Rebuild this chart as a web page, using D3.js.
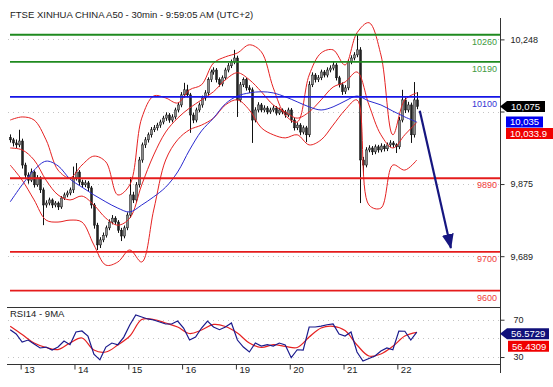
<!DOCTYPE html>
<html>
<head>
<meta charset="utf-8">
<script src="https://cdnjs.cloudflare.com/ajax/libs/d3/7.8.5/d3.min.js"></script>
<style>
body { margin: 0; background: #fff; }
svg { display: block; font-family: Arial, "Liberation Sans", sans-serif; }
</style>
</head>
<body>
<div id="chart"></div>
<script>
var title = "FTSE XINHUA CHINA A50 - 30min - 9:59:05 AM (UTC+2)";
var rsiTitle = "RSI14 - 9MA";

// days on the x axis and the bar index where each one starts
var dayLabels = ["13", "14", "15", "16", "19", "20", "21", "22"];
var dayStart = [4, 22, 40, 58, 76, 94, 112, 130];

// 30 min bars: [open, high, low, close]
var bars = [
	[9995, 10003, 9982, 9989], [9989, 9994, 9972, 9981], [9981, 9990, 9968, 9976], [9976, 10015, 9970, 9986],
	[9986, 9992, 9915, 9924], [9924, 9930, 9890, 9898], [9898, 9905, 9876, 9885], [9885, 9915, 9880, 9906],
	[9906, 9910, 9866, 9873], [9873, 9898, 9868, 9891], [9891, 9895, 9852, 9860], [9860, 9866, 9769, 9821],
	[9821, 9833, 9814, 9826], [9826, 9840, 9820, 9834], [9834, 9838, 9813, 9821], [9821, 9831, 9815, 9826],
	[9826, 9830, 9808, 9816], [9816, 9844, 9811, 9839], [9839, 9853, 9834, 9847], [9847, 9858, 9841, 9852],
	[9852, 9866, 9846, 9860], [9860, 9920, 9852, 9891], [9891, 9929, 9884, 9906], [9906, 9911, 9872, 9880],
	[9880, 9886, 9865, 9873], [9873, 9885, 9867, 9878], [9878, 9883, 9857, 9865], [9865, 9870, 9812, 9821],
	[9821, 9826, 9760, 9769], [9769, 9775, 9705, 9718], [9718, 9738, 9710, 9731], [9731, 9750, 9725, 9743],
	[9743, 9768, 9737, 9762], [9762, 9784, 9756, 9777], [9777, 9795, 9771, 9787], [9787, 9792, 9770, 9777],
	[9777, 9782, 9749, 9756], [9756, 9762, 9728, 9741], [9741, 9768, 9735, 9762], [9762, 9802, 9756, 9795],
	[9795, 9893, 9788, 9847], [9847, 9855, 9826, 9834], [9834, 9880, 9828, 9873], [9873, 9945, 9866, 9937],
	[9937, 9982, 9930, 9976], [9976, 9996, 9968, 9989], [9989, 10008, 9982, 10002], [10002, 10022, 9995, 10015],
	[10015, 10027, 10009, 10020], [10020, 10033, 10013, 10027], [10027, 10041, 10020, 10035], [10035, 10051, 10029, 10045],
	[10045, 10060, 10038, 10053], [10053, 10058, 10033, 10040], [10040, 10055, 10034, 10048], [10048, 10072, 10042, 10066],
	[10066, 10086, 10060, 10079], [10079, 10112, 10073, 10105], [10105, 10136, 10098, 10118], [10118, 10131, 10099, 10105],
	[10105, 10110, 10007, 10053], [10053, 10059, 10032, 10040], [10040, 10072, 10034, 10066], [10066, 10085, 10060, 10079],
	[10079, 10103, 10072, 10097], [10097, 10117, 10090, 10110], [10110, 10150, 10104, 10144], [10144, 10170, 10138, 10164],
	[10164, 10176, 10157, 10169], [10169, 10174, 10137, 10144], [10144, 10150, 10126, 10133], [10133, 10155, 10127, 10149],
	[10149, 10175, 10143, 10169], [10169, 10187, 10163, 10180], [10180, 10196, 10174, 10190], [10190, 10221, 10184, 10200],
	[10200, 10206, 10048, 10092], [10092, 10138, 10086, 10131], [10131, 10150, 10125, 10144], [10144, 10149, 10116, 10123],
	[10123, 10130, 10110, 10118], [10118, 10124, 9981, 10040], [10040, 10073, 10034, 10066], [10066, 10086, 10060, 10079],
	[10079, 10084, 10060, 10066], [10066, 10078, 10060, 10071], [10071, 10076, 10055, 10061], [10061, 10072, 10056, 10066],
	[10066, 10078, 10061, 10071], [10071, 10076, 10052, 10058], [10058, 10072, 10053, 10066], [10066, 10070, 10055, 10061],
	[10061, 10066, 10046, 10053], [10053, 10072, 10048, 10066], [10066, 10071, 10033, 10040], [10040, 10046, 10013, 10020],
	[10020, 10034, 10014, 10027], [10027, 10032, 10001, 10009], [10009, 10026, 10003, 10020], [10020, 10025, 9983, 10002],
	[10002, 10140, 9996, 10131], [10131, 10163, 10125, 10156], [10156, 10161, 10137, 10144], [10144, 10156, 10138, 10149],
	[10149, 10170, 10143, 10164], [10164, 10169, 10150, 10156], [10156, 10176, 10150, 10169], [10169, 10181, 10163, 10174],
	[10174, 10190, 10168, 10182], [10182, 10187, 10142, 10149], [10149, 10154, 10124, 10131], [10131, 10137, 10105, 10113],
	[10113, 10130, 10107, 10123], [10123, 10197, 10117, 10190], [10190, 10207, 10184, 10200], [10200, 10215, 10194, 10208],
	[10208, 10262, 10202, 10221], [10221, 10228, 9826, 9937], [9937, 9945, 9898, 9924], [9924, 9970, 9918, 9963],
	[9963, 9975, 9957, 9968], [9968, 9973, 9950, 9958], [9958, 9977, 9952, 9971], [9971, 9976, 9956, 9963],
	[9963, 9980, 9957, 9973], [9973, 9978, 9959, 9966], [9966, 9982, 9960, 9976], [9976, 9988, 9970, 9981],
	[9981, 9986, 9969, 9976], [9976, 9980, 9955, 9971], [9971, 10048, 9965, 10040], [10040, 10118, 10034, 10092],
	[10092, 10098, 10058, 10066], [10066, 10087, 10060, 10079], [10079, 10085, 9981, 10002], [10002, 10138, 9995, 10092],
	[10092, 10112, 10068, 10075]
];

// indicators read every 4 bars
var bandStep = 4;
var bbUpper = [10040, 10048, 10040, 9989, 9911, 9891, 9924, 9947, 9932, 9847, 9873, 10045, 10102, 10097, 10084, 10118, 10131, 10187,
	10203, 10213, 10234, 10216, 10123, 10053, 10035, 10156, 10213, 10221, 10182, 10265, 10291, 10208, 10002, 10092, 10110];
var bbMiddle = [9968, 9963, 9937, 9885, 9847, 9834, 9844, 9821, 9787, 9769, 9787, 9873, 9950, 10009, 10045, 10071, 10092, 10113,
	10144, 10162, 10144, 10113, 10079, 10061, 10045, 10061, 10092, 10125, 10138, 10164, 10079, 10002, 9968, 10002, 10034];
var bbLower = [9924, 9885, 9834, 9782, 9777, 9782, 9777, 9718, 9666, 9674, 9705, 9674, 9808, 9937, 9989, 10015, 10027, 10045,
	10079, 10092, 10066, 10020, 10002, 9994, 10002, 9976, 9989, 10027, 10066, 10092, 9821, 9813, 9924, 9911, 9937];
var movAvg = [9829, 9873, 9911, 9934, 9922, 9888, 9867, 9847, 9829, 9813, 9803, 9821, 9842, 9867, 9906, 9963, 10012, 10045,
	10082, 10102, 10110, 10113, 10110, 10100, 10087, 10074, 10066, 10074, 10089, 10102, 10089, 10079, 10063, 10048, 10035];

// RSI read every 2 bars, its 9MA every 4 bars
var rsiStep = 2;
var rsi = [59.3, 54.7, 46.1, 48.2, 43.9, 39.7, 40.7, 37.5, 40.7, 47.2, 43.2, 56.8, 57.9, 52.5, 33.0, 27.0, 40.7, 45.0, 43.2,
	51.4, 64.3, 75.0, 72.9, 70.8, 69.7, 67.5, 65.4, 65.4, 68.6, 61.1, 48.2, 51.4, 61.1, 68.6, 62.2, 59.3, 62.2, 66.5, 48.2,
	40.7, 35.4, 45.0, 41.8, 43.2, 41.8, 45.0, 42.9, 29.3, 37.8, 37.5, 62.2, 62.2, 63.2, 64.6, 65.4, 54.7, 52.5, 56.8, 35.4,
	25.7, 28.4, 31.1, 36.4, 39.7, 37.8, 57.9, 57.6, 48.2, 56.57];
var rsiMa = [62.9, 54.1, 45.0, 40.2, 38.0, 45.0, 50.4, 37.5, 35.4, 42.9, 52.5, 70.2, 70.2, 66.5, 62.2, 55.2, 59.0, 64.9,
	62.7, 55.7, 45.0, 40.2, 43.2, 41.5, 40.2, 51.4, 61.1, 62.9, 58.4, 42.9, 31.1, 33.2, 41.5, 52.5, 56.43];

// support / resistance levels
var levels = [10260, 10190, 10100, 9890, 9700, 9600];
var levelKind = ["res", "res", "pivot", "sup", "sup", "sup"];

var priceTicks = [10248, 10062, 9875, 9689];
var hiddenTick = 10062; // its label sits behind the value tags
var rsiGrid = [70, 50, 30];
var rsiTicks = [70, 30];

var lastPrice = 10075, lastMa = 10035, lastMid = 10033.9;
var lastRsi = 56.5729, lastRsiMa = 56.4309;

// projected move: [bar index, price]
var arrowFrom = [137, 10064];
var arrowTo = [147.4, 9710];

var width = 553;
var height = 387;
var left = 8;
var right = 500;

var lineColor = { res: "#1f8a1f", pivot: "#1414e6", sup: "#e51c1c" };
var labelColor = { res: "#3f9a3f", pivot: "#3434d4", sup: "#f03a3a" };

var xScale = d3.scaleLinear().domain([-0.5, 164]).range([8.7, 500.5]);
var yScale = d3.scaleLinear().domain([9576, 10298]).range([300, 20]);
var rScale = d3.scaleLinear().domain([22.2, 83.3]).range([364.3, 307.3]);

var svg = d3.select("#chart").append("svg")
	.attr("width", width)
	.attr("height", height);

svg.append("rect").attr("width", width).attr("height", height).attr("fill", "#fff");

svg.append("text")
	.attr("x", 10).attr("y", 17.5)
	.style("font-size", "9.5px").attr("fill", "#222")
	.text(title);

/* dotted grid */
svg.append("g").selectAll("line")
	.data(priceTicks).enter()
	.append("line")
	.attr("x1", left).attr("x2", right)
	.attr("y1", d => Math.round(yScale(d)) + 0.5)
	.attr("y2", d => Math.round(yScale(d)) + 0.5)
	.attr("stroke", "#c4c4c4")
	.attr("stroke-dasharray", "1,4");

svg.append("g").selectAll("line")
	.data(rsiGrid).enter()
	.append("line")
	.attr("x1", left).attr("x2", right)
	.attr("y1", d => Math.round(rScale(d)) + 0.5)
	.attr("y2", d => Math.round(rScale(d)) + 0.5)
	.attr("stroke", "#c4c4c4")
	.attr("stroke-dasharray", "1,4");

/* candles */
var candles = svg.append("g").attr("class", "candles");

candles.selectAll("line")
	.data(bars).enter()
	.append("line")
	.attr("x1", (d, i) => Math.round(xScale(i)) + 0.5)
	.attr("x2", (d, i) => Math.round(xScale(i)) + 0.5)
	.attr("y1", d => yScale(d[1]))
	.attr("y2", d => yScale(d[2]))
	.attr("stroke", "#111")
	.attr("stroke-width", 1);

candles.selectAll("rect")
	.data(bars).enter()
	.append("rect")
	.attr("x", (d, i) => Math.round(xScale(i)) - 0.5)
	.attr("width", 2)
	.attr("y", d => yScale(Math.max(d[0], d[3])))
	.attr("height", d => Math.max(1, Math.abs(yScale(d[0]) - yScale(d[3]))))
	.attr("fill", d => d[3] >= d[0] ? "#8c8c8c" : "#222")
	.attr("stroke", "#111")
	.attr("stroke-width", 0.5);

/* indicator lines */
function sampled(values, step) {
	return values.map((v, k) => [k * step, v]);
}

var priceLine = d3.line()
	.x(d => xScale(d[0]))
	.y(d => yScale(d[1]))
	.curve(d3.curveCatmullRom);

[bbUpper, bbMiddle, bbLower].forEach(function(band) {
	svg.append("path")
		.attr("d", priceLine(sampled(band, bandStep)))
		.attr("fill", "none")
		.attr("stroke", "#e62222")
		.attr("stroke-width", 1);
});

svg.append("path")
	.attr("d", priceLine(sampled(movAvg, bandStep)))
	.attr("fill", "none")
	.attr("stroke", "#2a2ad0")
	.attr("stroke-width", 1);

/* levels */
var lv = svg.append("g").attr("class", "levels");

lv.selectAll("line")
	.data(levels).enter()
	.append("line")
	.attr("x1", left + 2).attr("x2", right)
	.attr("y1", d => yScale(d))
	.attr("y2", d => yScale(d))
	.attr("stroke", (d, i) => lineColor[levelKind[i]])
	.attr("stroke-width", 1.8);

lv.selectAll("text")
	.data(levels).enter()
	.append("text")
	.attr("x", right - 3)
	.attr("y", d => yScale(d) + 10)
	.attr("text-anchor", "end")
	.style("font-size", "9px")
	.attr("fill", (d, i) => labelColor[levelKind[i]])
	.text(d => d);

/* projected move arrow */
svg.append("defs").append("marker")
	.attr("id", "head")
	.attr("markerUnits", "userSpaceOnUse")
	.attr("markerWidth", 16).attr("markerHeight", 12)
	.attr("refX", 14).attr("refY", 6)
	.attr("orient", "auto")
	.append("path")
	.attr("d", "M0,0 L15,6 L0,12 Z")
	.attr("fill", "#161680");

svg.append("line")
	.attr("x1", xScale(arrowFrom[0])).attr("y1", yScale(arrowFrom[1]))
	.attr("x2", xScale(arrowTo[0])).attr("y2", yScale(arrowTo[1]))
	.attr("stroke", "#161680")
	.attr("stroke-width", 2.2)
	.attr("marker-end", "url(#head)");

/* rsi panel */
var rsiLine = d3.line()
	.x(d => xScale(d[0]))
	.y(d => rScale(d[1]));

svg.append("path")
	.attr("d", rsiLine.curve(d3.curveCatmullRom)(sampled(rsiMa, bandStep)))
	.attr("fill", "none")
	.attr("stroke", "#e62222")
	.attr("stroke-width", 1.2);

svg.append("path")
	.attr("d", rsiLine.curve(d3.curveLinear)(sampled(rsi, rsiStep)))
	.attr("fill", "none")
	.attr("stroke", "#1a1a8c")
	.attr("stroke-width", 1.2);

svg.append("text")
	.attr("x", 10).attr("y", 316.5)
	.style("font-size", "9.5px").attr("fill", "#222")
	.text(rsiTitle);

/* frame */
svg.append("line")
	.attr("x1", 7).attr("x2", right).attr("y1", 307.5).attr("y2", 307.5)
	.attr("stroke", "#333");

svg.append("line")
	.attr("x1", right + 0.5).attr("x2", right + 0.5).attr("y1", 18).attr("y2", 373)
	.attr("stroke", "#333");

/* axes */
var xAxis = d3.axisBottom(xScale)
	.tickValues(dayStart.map(d => d - 0.5))
	.tickFormat((d, i) => dayLabels[i])
	.tickSize(5)
	.tickSizeOuter(0);

var gx = svg.append("g")
	.attr("transform", "translate(0, 364.5)")
	.call(xAxis);
gx.select(".domain").attr("d", "M7,0H" + right).attr("stroke", "#333");
gx.selectAll("text")
	.attr("text-anchor", "start")
	.attr("x", 3).attr("y", 2).attr("dy", "0.71em")
	.style("font-size", "9.5px").style("font-family", "Arial, 'Liberation Sans', sans-serif")
	.attr("fill", "#222");

var yAxis = d3.axisRight(yScale)
	.tickValues(priceTicks)
	.tickFormat(d => d === hiddenTick ? "" : d3.format(",")(d))
	.tickSize(4)
	.tickPadding(6);

var gy = svg.append("g")
	.attr("transform", `translate(${right + 0.5}, 0)`)
	.call(yAxis);
gy.select(".domain").remove();

var rAxis = d3.axisRight(rScale)
	.tickValues(rsiTicks)
	.tickSize(4)
	.tickPadding(9);

var gr = svg.append("g")
	.attr("transform", `translate(${right + 0.5}, 0)`)
	.call(rAxis);
gr.select(".domain").remove();

svg.selectAll(".tick line").attr("stroke", "#333");
[gy, gr].forEach(g => g.selectAll("text")
	.style("font-size", "9px")
	.style("font-family", "Arial, 'Liberation Sans', sans-serif")
	.attr("fill", "#222"));

/* value tags */
function tag(y, color, label, pointer, x0, x1) {
	var h = 5.5;
	var d = pointer
		? `M${right},${y} L${x0},${y - h} L${x1},${y - h} L${x1},${y + h} L${x0},${y + h} Z`
		: `M${x0},${y - h} L${x1},${y - h} L${x1},${y + h} L${x0},${y + h} Z`;
	svg.append("path").attr("d", d).attr("fill", color);
	svg.append("text")
		.attr("x", x0 + 4).attr("y", y + 3.5)
		.style("font-size", "9.5px")
		.attr("fill", "#fff")
		.text(label);
}

var fmt = d3.format(",");
var yMa = yScale(lastMa);
tag(yScale(lastPrice), "#000", fmt(lastPrice), true, 507, 545);
tag(yMa, "#0000f0", fmt(lastMa), false, 506, 543);
tag(yMa + 11.5, "#f00000", d3.format(",.1f")(lastMid), false, 506, 560);

var yR = rScale(lastRsi);
tag(yR + 1.5, "#10107a", lastRsi.toFixed(4), true, 507, 549);
tag(yR + 14, "#f00000", lastRsiMa.toFixed(4), false, 508, 549);
</script>
</body>
</html>
